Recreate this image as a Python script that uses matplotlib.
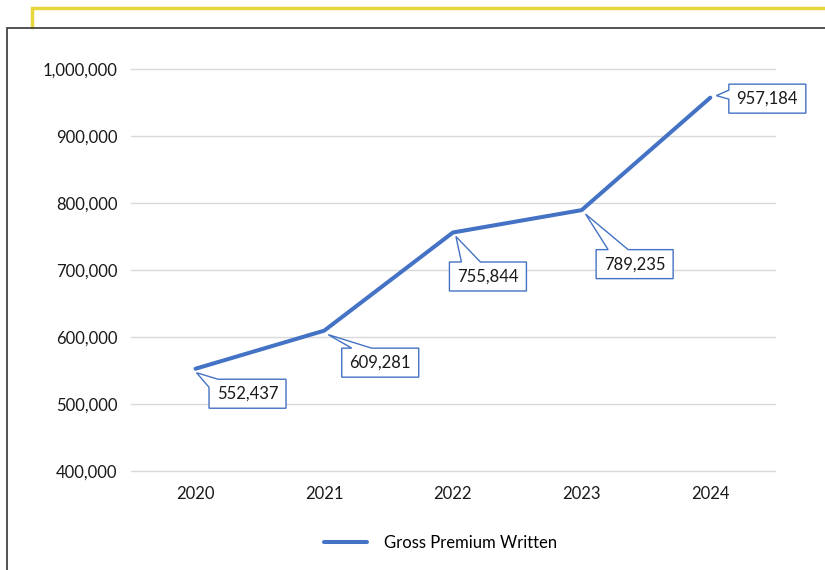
import matplotlib.pyplot as plt
from matplotlib.lines import Line2D
from matplotlib.patches import Polygon
from matplotlib.ticker import FuncFormatter
from matplotlib.transforms import Affine2D, ScaledTranslation

years = ["2020", "2021", "2022", "2023", "2024"]
premium = [552437, 609281, 755844, 789235, 957184]

# callout layout, in pixels from the data point (y up)
box_dx = [52, 56, 35, 53, 57]
box_dy = [-25, -32, -44, -54, -1]
wedge_side = ["corner", "top", "top", "top", "left"]
wedge_span = [(8, 9), (10, 30), (12, 31), (12, 32), (6, 15)]
wedge_tip = [(1, -4), (4, -4), (3, -4), (4, -4), (6, 2)]
BOX_W, BOX_H = 77, 29

BLUE = "#4472C4"
TEXT = "#1a1a1a"
plt.rcParams['font.family'] = ['Lato', 'DejaVu Sans']

fig = plt.figure(figsize=(8.25, 5.7), dpi=100)
ax = fig.add_axes([0.159, 0.174, 0.78, 0.705])

x = list(range(len(years)))
ax.plot(x, premium, color=BLUE, lw=2.9, solid_capstyle='round',
        label="Gross Premium Written", zorder=3)


def callout(i, v):
    cx, cy = box_dx[i], box_dy[i]
    x0, x1 = cx - BOX_W / 2, cx + BOX_W / 2
    y0, y1 = cy - BOX_H / 2, cy + BOX_H / 2
    s1, s2 = wedge_span[i]
    tip = wedge_tip[i]
    side = wedge_side[i]
    if side == "top":
        pts = [(x0, y1), (x0 + s1, y1), tip, (x0 + s2, y1), (x1, y1), (x1, y0), (x0, y0)]
    elif side == "left":
        pts = [(x0, y0), (x0, y1 - s2), tip, (x0, y1 - s1), (x0, y1), (x1, y1), (x1, y0)]
    else:
        pts = [(x0, y0), (x0, y1 - s1), tip, (x0 + s2, y1), (x1, y1), (x1, y0)]
    tr = Affine2D() + ScaledTranslation(i, v, ax.transData)
    ax.add_patch(Polygon(pts, closed=True, transform=tr, fc='white', ec=BLUE,
                         lw=1, zorder=4, clip_on=False))
    ax.annotate(f"{v:,}", xy=(i, v), xytext=(cx, cy), textcoords='offset pixels',
                ha='center', va='center', fontsize=12, color=TEXT, zorder=5)


for i, v in enumerate(premium):
    callout(i, v)

ax.set_xticks(x)
ax.set_xticklabels(years)
ax.set_xlim(-0.5, 4.5)
ax.set_ylim(400000, 1000000)
ax.set_yticks(range(400000, 1000001, 100000))
ax.yaxis.set_major_formatter(FuncFormatter(lambda v, p: f"{int(v):,}"))
ax.grid(axis='y', color='#d9d9d9', lw=1)
for gl in ax.get_ygridlines():
    gl.set_clip_on(False)
ax.set_axisbelow(True)
for s in ax.spines.values():
    s.set_visible(False)
ax.tick_params(length=0, labelsize=12, colors=TEXT, pad=10)
ax.tick_params(axis='x', pad=11)

fig.legend(loc='center', bbox_to_anchor=(0.534, 0.047), frameon=False,
           fontsize=12, handlelength=2.6, handletextpad=1.0)

# frame lines around the chart
W, H = 825, 570
def fline(xs, ys, **kw):
    fig.add_artist(Line2D([a / W for a in xs], [1 - b / H for b in ys],
                          transform=fig.transFigure, **kw))

fline([32, 32, 825], [27, 7.5, 7.5], color='#e6d83a', lw=2.5, solid_joinstyle='miter')
fline([6.5, 6.5, 825], [570, 28.3, 28.3], color='#444444', lw=1.3, solid_joinstyle='miter')

fig.savefig("out.png", dpi=100)
